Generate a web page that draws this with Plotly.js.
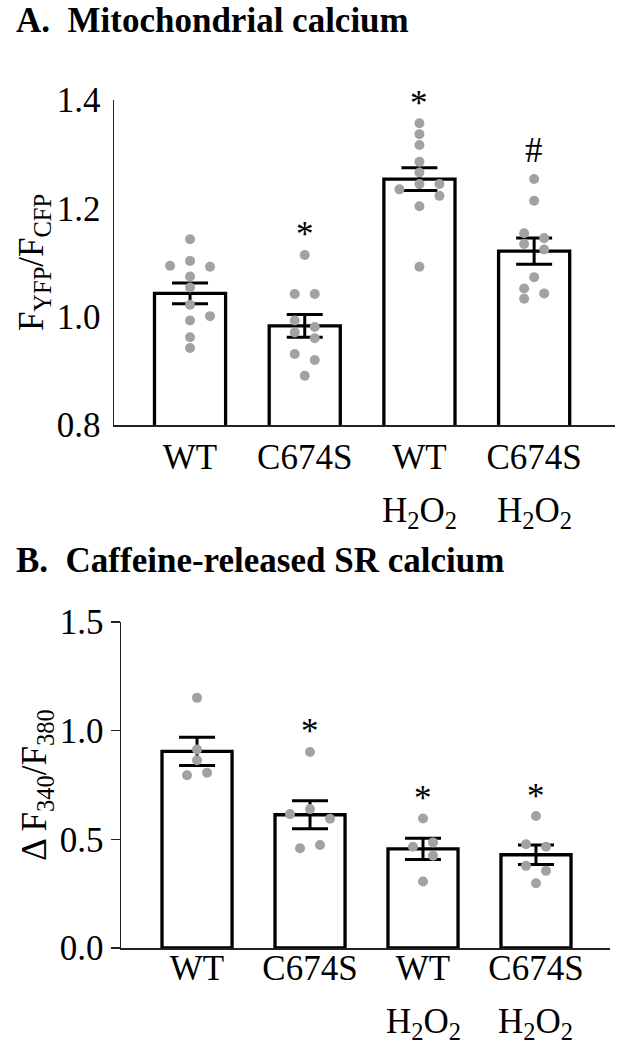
<!DOCTYPE html>
<html>
<head>
<meta charset="utf-8">
<script src="https://cdn.plot.ly/plotly-3.0.1.min.js"></script>
<style>
  html, body { margin: 0; padding: 0; background: #ffffff; }
  #chart { width: 617px; height: 1050px; }
</style>
</head>
<body>
<div id="chart"></div>
<script>
// ---------- data ----------
const catLine1 = ['WT', 'C674S', 'WT', 'C674S'];
const catLine2 = ['', '', 'H<sub>2</sub>O<sub>2</sub>', 'H<sub>2</sub>O<sub>2</sub>'];

// Panel A: mitochondrial calcium (F_YFP / F_CFP)
const meanA = [1.043, 0.983, 1.254, 1.121];
const semA  = [0.019, 0.021, 0.021, 0.024];
const dotsA_WT      = [1.143, 1.103, 1.094, 1.092, 1.074, 1.054, 1.022, 1.001, 0.993, 0.962, 0.942];
const dotsA_C674S   = [1.114, 1.042, 1.042, 0.993, 0.981, 0.971, 0.960, 0.931, 0.920, 0.891];
const dotsA_WTH2O2  = [1.357, 1.337, 1.317, 1.286, 1.266, 1.245, 1.235, 1.245, 1.223, 1.204, 1.092];
const dotsA_C674SH  = [1.254, 1.214, 1.154, 1.145, 1.134, 1.124, 1.073, 1.052, 1.043, 1.033];
const sigA = ['', '*', '*', '#'];

// Panel B: caffeine-released SR calcium (ΔF340/F380)
const meanB = [0.905, 0.613, 0.456, 0.429];
const semB  = [0.065, 0.064, 0.049, 0.045];
const dotsB_WT      = [1.151, 0.913, 0.864, 0.806, 0.795];
const dotsB_C674S   = [0.902, 0.639, 0.616, 0.595, 0.474, 0.459];
const dotsB_WTH2O2  = [0.596, 0.486, 0.466, 0.425, 0.306];
const dotsB_C674SH  = [0.607, 0.477, 0.466, 0.378, 0.355, 0.298];
const sigB = ['', '*', '*', '*'];

// ---------- presentation (dot lanes for the scatter spread) ----------
const lanesA = [
  [0, 0, -2, 2, 0, 0, 0, 2, 0, 0, 0],
  [0, -1, 1, -1, 1, -1, 1, -1, 1, 0],
  [0, 0, 0, 0, 0, 0, -2, 2, 2, 0, 0],
  [0, 0, -1, 1, -1, 1, 0, -1, 1, -1]
];
const lanesB = [
  [0, 0, 0, 1, -1],
  [0, 0, -2, 2, 1, -1],
  [0, 1, -1, 1, 0],
  [0, -1, 1, -1, 1, 0]
];
const laneA = 10 / 114.7;
const laneB = 10 / 113;

const dotsA = [dotsA_WT, dotsA_C674S, dotsA_WTH2O2, dotsA_C674SH];
const dotsB = [dotsB_WT, dotsB_C674S, dotsB_WTH2O2, dotsB_C674SH];
const xs = [0, 1, 2, 3];

const FONT = "'Liberation Serif', 'Times New Roman', 'DejaVu Serif', serif";
const BLACK = '#000000';
const DOT = '#a2a2a2';
const FS = 35;

function dotTrace(dots, lanes, unit, xa, ya) {
  const x = [], y = [];
  dots.forEach((arr, i) => arr.forEach((v, j) => { x.push(i + lanes[i][j] * unit); y.push(v); }));
  return { type: 'scatter', mode: 'markers', x, y, xaxis: xa, yaxis: ya,
    marker: { size: 10, color: DOT, line: { width: 0 } }, hoverinfo: 'skip', cliponaxis: false };
}
function barTrace(mean, sem, xa, ya) {
  return { type: 'bar', x: xs, y: mean, xaxis: xa, yaxis: ya, width: 0.62,
    marker: { color: '#ffffff', line: { color: BLACK, width: 3.3 } },
    error_y: { type: 'data', array: sem, visible: true, color: BLACK, thickness: 3, width: 18 } };
}

const traces = [
  barTrace(meanA, semA, 'x', 'y'),
  dotTrace(dotsA, lanesA, laneA, 'x', 'y'),
  barTrace(meanB, semB, 'x2', 'y2'),
  dotTrace(dotsB, lanesB, laneB, 'x2', 'y2')
];

const titleFont = { family: FONT, size: FS, color: BLACK, weight: 700 };
const annotations = [];
// panel titles
annotations.push({ text: 'A.\u00a0\u00a0Mitochondrial calcium', xref: 'paper', yref: 'paper',
  x: (14 - 114) / 501, y: 1 + (100 - 20) / 848, xanchor: 'left', yanchor: 'middle', showarrow: false,
  font: titleFont });
annotations.push({ text: 'B.\u00a0\u00a0Caffeine-released SR calcium', xref: 'paper', yref: 'paper',
  x: (14 - 114) / 501, y: 1 - (560 - 100) / 848, xanchor: 'left', yanchor: 'middle', showarrow: false,
  font: titleFont });
// second line of category labels
[['x', 'y domain', -64], ['x2', 'y2 domain', -52]].forEach(([xr, yr, sh]) => {
  catLine2.forEach((t, i) => {
    if (!t) return;
    annotations.push({ text: t, xref: xr, yref: yr, x: xs[i], y: 0, yanchor: 'top', yshift: sh,
      showarrow: false, font: { family: FONT, size: FS, color: BLACK } });
  });
});
// significance marks
function sig(marks, dots, xr, yr) {
  marks.forEach((m, i) => {
    if (!m) return;
    annotations.push({ text: m, xref: xr, yref: yr, x: xs[i], y: Math.max(...dots[i]), yanchor: 'middle',
      yshift: m === '#' ? 29 : 20, showarrow: false, font: { family: FONT, size: FS, color: BLACK } });
  });
}
sig(sigA, dotsA, 'x', 'y');
sig(sigB, dotsB, 'x2', 'y2');

const tickFont = { family: FONT, size: FS, color: BLACK };
const layout = {
  width: 617, height: 1050,
  margin: { l: 114, r: 2, t: 100, b: 102 },
  paper_bgcolor: '#ffffff', plot_bgcolor: '#ffffff',
  showlegend: false, bargap: 0,
  font: { family: FONT, color: BLACK },
  xaxis: { domain: [0, 1], range: [-0.663, 3.705], anchor: 'y', tickvals: xs, ticktext: catLine1,
    showline: true, linecolor: '#222', linewidth: 1.5, ticks: '', showgrid: false, zeroline: false,
    tickfont: tickFont, ticklabelstandoff: 0, fixedrange: true },
  yaxis: { domain: [1 - 325 / 848, 1], range: [0.8, 1.4], anchor: 'x', tickvals: [0.8, 1.0, 1.2, 1.4],
    tickformat: '.1f', showline: true, linecolor: '#222', linewidth: 1.5, ticks: '', showgrid: false,
    zeroline: false, tickfont: tickFont, ticklabelstandoff: 5,
    title: { text: 'F<sub>YFP</sub>/F<sub>CFP</sub>', font: { family: FONT, size: FS, color: BLACK }, standoff: 2 } },
  xaxis2: { domain: [7 / 501, 496 / 501], range: [-0.673, 3.655], anchor: 'y2', tickvals: xs, ticktext: catLine1,
    showline: true, linecolor: '#222', linewidth: 1.5, ticks: '', showgrid: false, zeroline: false,
    tickfont: tickFont, ticklabelstandoff: -12, fixedrange: true },
  yaxis2: { domain: [0, 1 - 522 / 848], range: [0, 1.5], anchor: 'x2', tickvals: [0, 0.5, 1.0, 1.5],
    tickformat: '.1f', showline: true, linecolor: '#222', linewidth: 1.5, ticks: 'outside', ticklen: 9,
    tickwidth: 1.5, tickcolor: '#222', showgrid: false, zeroline: false, tickfont: tickFont,
    title: { text: '\u0394 F<sub>340</sub>/F<sub>380</sub>', font: { family: FONT, size: FS, color: BLACK }, standoff: 2 } },
  annotations
};

Plotly.newPlot('chart', traces, layout, { staticPlot: true, displayModeBar: false });
</script>
</body>
</html>
